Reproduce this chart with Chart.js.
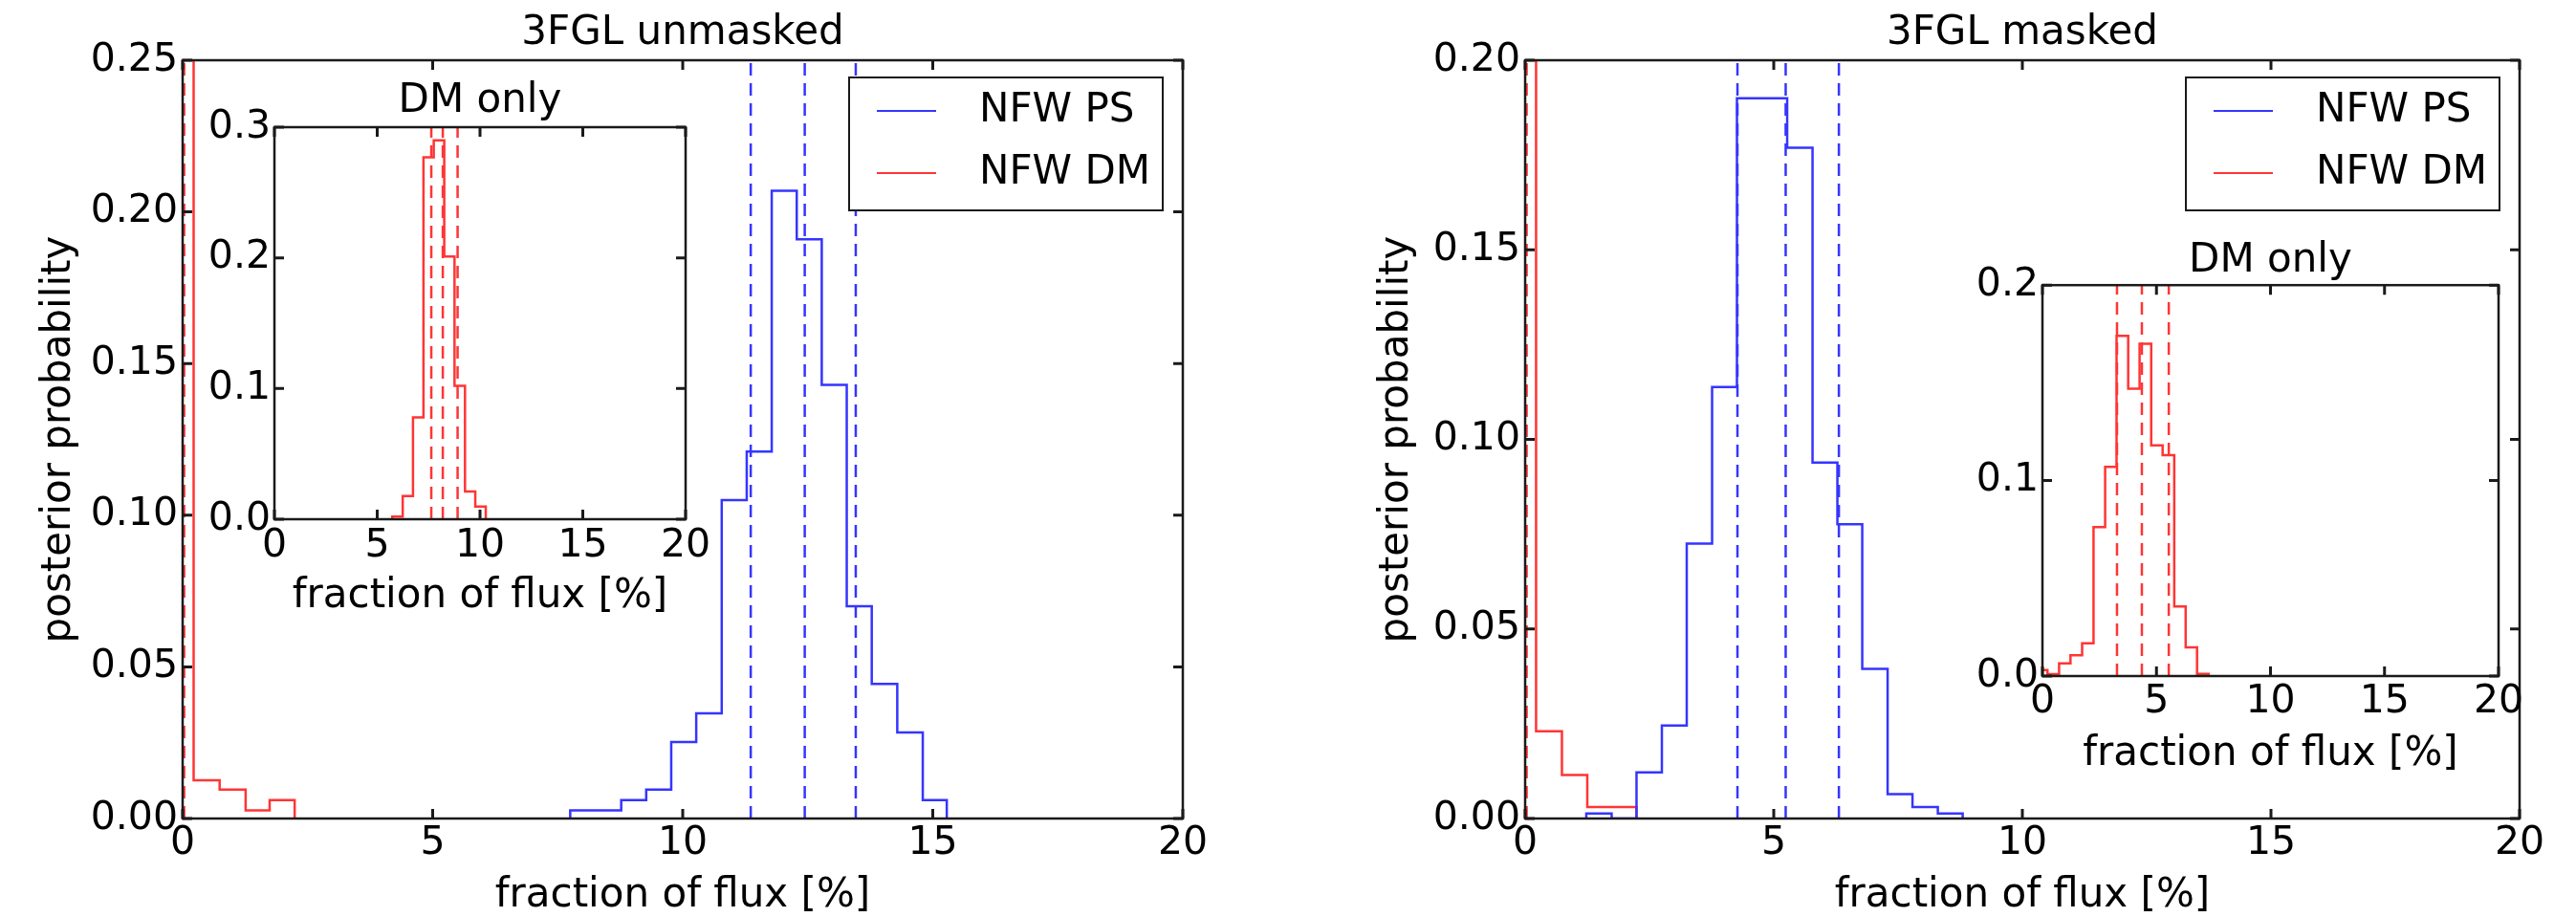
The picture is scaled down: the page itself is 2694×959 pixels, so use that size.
<!DOCTYPE html>
<html>
<head>
<meta charset="utf-8">
<title>3FGL unmasked / masked</title>
<script src="https://cdn.jsdelivr.net/npm/chart.js@4.4.1/dist/chart.umd.min.js"></script>
<style>
  html, body { margin: 0; padding: 0; background: #fff; }
  body { width: 2694px; height: 959px; position: relative; overflow: hidden; }
  canvas { position: absolute; }
</style>
</head>
<body>
<canvas id="mainUnmasked" width="1347" height="959" style="left:0px;top:0px;width:1347px;height:959px"></canvas>
<canvas id="mainMasked" width="1294" height="959" style="left:1400px;top:0px;width:1294px;height:959px"></canvas>
<canvas id="insetUnmasked" width="557" height="589" style="left:200px;top:60px;width:557px;height:589px"></canvas>
<canvas id="insetMasked" width="613" height="584" style="left:2040px;top:230px;width:613px;height:584px"></canvas>
<script>
// ---- data (fraction of flux in %, posterior probability) ----

// 3FGL unmasked, main panel
const unmaskedPsEdges = [7.75, 8.26, 8.77, 9.27, 9.77, 10.27, 10.78, 11.28, 11.78, 12.28, 12.78, 13.28, 13.78, 14.29, 14.80, 15.28];
const unmaskedPsProb = [0.0027, 0.0027, 0.0061, 0.0095, 0.0252, 0.0347, 0.105, 0.121, 0.207, 0.191, 0.143, 0.070, 0.0444, 0.0284, 0.0061];
const unmaskedDmEdges = [-0.28, 0.22, 0.74, 1.26, 1.74, 2.24];
const unmaskedDmProb = [0.97, 0.0126, 0.0095, 0.0027, 0.0061];
const unmaskedPsQuantiles = [11.36, 12.44, 13.46];
const unmaskedDmQuantiles = [0.03];

// 3FGL unmasked, "DM only" inset
const unmaskedOnlyEdges = [5.73, 6.24, 6.74, 7.25, 7.75, 8.26, 8.76, 9.27, 9.77, 10.28];
const unmaskedOnlyProb = [0.002, 0.0178, 0.078, 0.277, 0.29, 0.201, 0.102, 0.0212, 0.0097];
const unmaskedOnlyQuantiles = [7.63, 8.19, 8.91];

// 3FGL masked, main panel
const maskedPsEdges = [1.23, 1.74, 2.24, 2.75, 3.25, 3.76, 4.26, 4.77, 5.27, 5.78, 6.28, 6.78, 7.29, 7.79, 8.30, 8.80];
const maskedPsProb = [0.0013, 0, 0.0122, 0.0245, 0.0725, 0.1138, 0.190, 0.190, 0.1769, 0.0939, 0.0776, 0.0395, 0.0064, 0.003, 0.0013];
const maskedDmEdges = [-0.28, 0.22, 0.74, 1.25, 1.75, 2.24];
const maskedDmProb = [0.96, 0.023, 0.0115, 0.003, 0.003];
const maskedPsQuantiles = [4.27, 5.24, 6.31];
const maskedDmQuantiles = [0.03];

// 3FGL masked, "DM only" inset
const maskedOnlyEdges = [-0.28, 0.22, 0.73, 1.23, 1.74, 2.24, 2.75, 3.25, 3.76, 4.26, 4.77, 5.27, 5.78, 6.28, 6.78, 7.29];
const maskedOnlyProb = [0.003, 0.001, 0.0065, 0.0106, 0.0167, 0.0762, 0.107, 0.174, 0.147, 0.170, 0.118, 0.113, 0.0356, 0.0147, 0.0011];
const maskedOnlyQuantiles = [3.27, 4.36, 5.54];

const PS_COLOR = "#3535ff";
const DM_COLOR = "#ff3535";
const FONT = "'DejaVu Sans', 'Liberation Sans', sans-serif";
const LABEL_SIZE = 42;
const TICK_SIZE = 41;

Chart.defaults.font.family = FONT;
Chart.defaults.font.size = TICK_SIZE;
Chart.defaults.color = "#000";

// histtype="step" outline: up at first edge, across each bin, down at last edge
function stepOutline(edges, probs) {
  const pts = [{ x: edges[0], y: 0 }];
  probs.forEach((p, i) => {
    pts.push({ x: edges[i], y: p });
    pts.push({ x: edges[i + 1], y: p });
  });
  pts.push({ x: edges[edges.length - 1], y: 0 });
  return pts;
}

function histSet(label, edges, probs, color) {
  return {
    label: label,
    data: stepOutline(edges, probs),
    showLine: true,
    borderColor: color,
    borderWidth: 2.5,
    pointRadius: 0,
    tension: 0,
    fill: false,
  };
}

function quantileSets(values, yMax, color) {
  return values.map((q) => ({
    data: [{ x: q, y: 0 }, { x: q, y: yMax }],
    showLine: true,
    borderColor: color,
    borderWidth: 2.5,
    borderDash: [13, 8],
    pointRadius: 0,
  }));
}

// box around the axes with inward ticks on all four sides
const frameTicks = {
  id: "frameTicks",
  beforeDatasetsDraw(chart, args, opts) {
    if (!opts.fill) return;
    const a = chart.chartArea;
    chart.ctx.save();
    chart.ctx.fillStyle = "#fff";
    chart.ctx.fillRect(a.left, a.top, a.right - a.left, a.bottom - a.top);
    chart.ctx.restore();
  },
  afterDatasetsDraw(chart) {
    const { ctx, chartArea: a, scales } = chart;
    const len = 10;
    ctx.save();
    ctx.strokeStyle = "#1a1a1a";
    ctx.lineWidth = 2.5;
    ctx.strokeRect(a.left, a.top, a.right - a.left, a.bottom - a.top);
    ctx.beginPath();
    scales.x.ticks.forEach((t) => {
      const px = scales.x.getPixelForValue(t.value);
      ctx.moveTo(px, a.bottom);
      ctx.lineTo(px, a.bottom - len);
      ctx.moveTo(px, a.top);
      ctx.lineTo(px, a.top + len);
    });
    scales.y.ticks.forEach((t) => {
      const py = scales.y.getPixelForValue(t.value);
      ctx.moveTo(a.left, py);
      ctx.lineTo(a.left + len, py);
      ctx.moveTo(a.right, py);
      ctx.lineTo(a.right - len, py);
    });
    ctx.lineWidth = 3;
    ctx.stroke();
    ctx.restore();
  },
};

// matplotlib-style "upper right" legend box
const boxLegend = {
  id: "boxLegend",
  afterDraw(chart, args, opts) {
    if (!opts.width) return;
    const { ctx, chartArea: a } = chart;
    const left = a.right - opts.right - opts.width;
    const top = a.top + opts.top;
    const items = chart.data.datasets.filter((d) => d.label);
    ctx.save();
    ctx.fillStyle = "#fff";
    ctx.fillRect(left, top, opts.width, opts.height);
    ctx.strokeStyle = "#1a1a1a";
    ctx.lineWidth = 2;
    ctx.strokeRect(left, top, opts.width, opts.height);
    ctx.font = LABEL_SIZE + "px " + FONT;
    ctx.textBaseline = "middle";
    ctx.textAlign = "left";
    items.forEach((d, i) => {
      const y = top + opts.rows[i];
      ctx.strokeStyle = d.borderColor;
      ctx.lineWidth = 2;
      ctx.beginPath();
      ctx.moveTo(left + 29, y);
      ctx.lineTo(left + 91, y);
      ctx.stroke();
      ctx.fillStyle = "#000";
      ctx.fillText(d.label, left + 136, y);
    });
    ctx.restore();
  },
};

function makePanel(id, cfg) {
  return new Chart(document.getElementById(id), {
    type: "scatter",
    data: { datasets: cfg.datasets },
    options: {
      responsive: false,
      animation: false,
      devicePixelRatio: 1,
      events: [],
      layout: { padding: cfg.padding },
      plugins: {
        legend: { display: false },
        tooltip: { enabled: false },
        title: {
          display: true,
          fullSize: false,
          text: cfg.title,
          font: { size: LABEL_SIZE, weight: "normal" },
          color: "#000",
          padding: cfg.titlePad,
        },
        frameTicks: { fill: cfg.inset },
        boxLegend: cfg.legend || {},
      },
      scales: {
        x: {
          type: "linear",
          min: 0,
          max: 20,
          grid: { display: false, drawTicks: false },
          border: { display: false },
          ticks: { stepSize: 5, padding: cfg.xTickPad, autoSkip: false, maxRotation: 0 },
          title: {
            display: true,
            text: "fraction of flux [%]",
            font: { size: LABEL_SIZE },
            padding: { top: 0, bottom: cfg.xTitlePad },
          },
          afterFit: (s) => { s.height = cfg.xHeight; },
        },
        y: {
          type: "linear",
          min: 0,
          max: cfg.yMax,
          grid: { display: false, drawTicks: false },
          border: { display: false },
          ticks: {
            stepSize: cfg.yStep,
            padding: cfg.yTickPad,
            callback: (v) => v.toFixed(cfg.digits),
          },
          title: {
            display: !!cfg.yTitle,
            text: cfg.yTitle || "",
            font: { size: LABEL_SIZE },
            padding: { top: cfg.yTitlePad || 0, bottom: 0 },
          },
          afterFit: (s) => { s.width = cfg.yWidth; },
        },
      },
    },
    plugins: [frameTicks, boxLegend],
  });
}

const legendBox = { right: 21, top: 18, width: 328, height: 139, rows: [35, 100] };

makePanel("mainUnmasked", {
  title: "3FGL unmasked",
  datasets: [
    histSet("NFW PS", unmaskedPsEdges, unmaskedPsProb, PS_COLOR),
    histSet("NFW DM", unmaskedDmEdges, unmaskedDmProb, DM_COLOR),
    ...quantileSets(unmaskedPsQuantiles, 0.25, PS_COLOR),
    ...quantileSets(unmaskedDmQuantiles, 0.25, DM_COLOR),
  ],
  padding: { left: 0, right: 110, top: 0, bottom: 0 },
  titlePad: { top: 10, bottom: 2.6 },
  xHeight: 103, xTickPad: 2, xTitlePad: -3,
  yWidth: 191, yTickPad: 5, yMax: 0.25, yStep: 0.05, digits: 2,
  yTitle: "posterior probability", yTitlePad: 37,
  legend: legendBox,
  inset: false,
});

makePanel("mainMasked", {
  title: "3FGL masked",
  datasets: [
    histSet("NFW PS", maskedPsEdges, maskedPsProb, PS_COLOR),
    histSet("NFW DM", maskedDmEdges, maskedDmProb, DM_COLOR),
    ...quantileSets(maskedPsQuantiles, 0.2, PS_COLOR),
    ...quantileSets(maskedDmQuantiles, 0.2, DM_COLOR),
  ],
  padding: { left: 0, right: 59, top: 0, bottom: 0 },
  titlePad: { top: 10, bottom: 2.6 },
  xHeight: 103, xTickPad: 2, xTitlePad: -3,
  yWidth: 195, yTickPad: 5, yMax: 0.2, yStep: 0.05, digits: 2,
  yTitle: "posterior probability", yTitlePad: 36,
  legend: legendBox,
  inset: false,
});

makePanel("insetUnmasked", {
  title: "DM only",
  datasets: [
    histSet(null, unmaskedOnlyEdges, unmaskedOnlyProb, DM_COLOR),
    ...quantileSets(unmaskedOnlyQuantiles, 0.3, DM_COLOR),
  ],
  padding: { left: 0, right: 40, top: 0, bottom: 0 },
  titlePad: { top: 20.8, bottom: 1.8 },
  xHeight: 106, xTickPad: 4, xTitlePad: 0,
  yWidth: 87, yTickPad: 4, yMax: 0.3, yStep: 0.1, digits: 1,
  inset: true,
});

makePanel("insetMasked", {
  title: "DM only",
  datasets: [
    histSet(null, maskedOnlyEdges, maskedOnlyProb, DM_COLOR),
    ...quantileSets(maskedOnlyQuantiles, 0.2, DM_COLOR),
  ],
  padding: { left: 0, right: 40, top: 0, bottom: 0 },
  titlePad: { top: 17.8, bottom: 0 },
  xHeight: 107, xTickPad: 2.5, xTitlePad: 0,
  yWidth: 96, yTickPad: 4, yMax: 0.2, yStep: 0.1, digits: 1,
  inset: true,
});
</script>
</body>
</html>
